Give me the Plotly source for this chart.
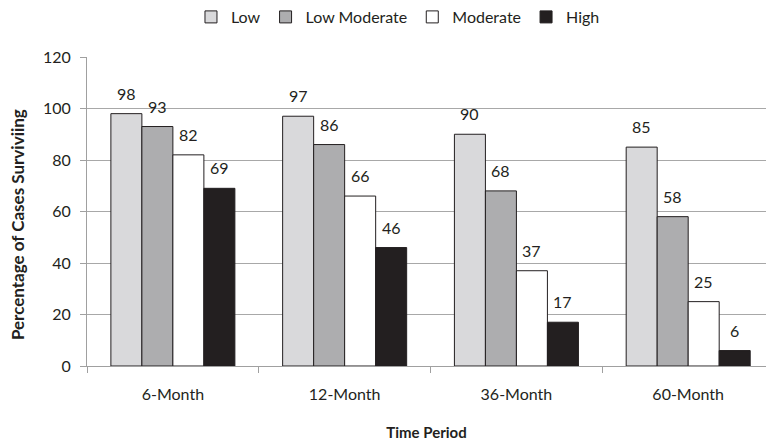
import plotly.graph_objects as go

categories = ["6-Month", "12-Month", "36-Month", "60-Month"]
series_names = ["Low", "Low Moderate", "Moderate", "High"]
low = [98, 97, 90, 85]
low_moderate = [93, 86, 68, 58]
moderate = [82, 66, 37, 25]
high = [69, 46, 17, 6]
y_ticks = [0, 20, 40, 60, 80, 100, 120]

values = [low, low_moderate, moderate, high]
colors = ["#d9d9db", "#adadaf", "#ffffff", "#231f20"]

FONT = "Lato, Open Sans, sans-serif"
TXT = "#231f20"
BAR_PX = 31  # pixel width of one bar (style only)

fig = go.Figure()
for i, (name, vals, col) in enumerate(zip(series_names, values, colors)):
    fig.add_trace(go.Bar(
        x=categories, y=vals, name=name,
        marker=dict(color=col, line=dict(color=TXT, width=1)),
    ))
    for c, v in zip(categories, vals):
        fig.add_annotation(
            x=c, y=v, text=str(v), showarrow=False,
            xshift=(i - 1.5) * BAR_PX, yshift=9, yanchor="bottom",
            font=dict(size=16, color=TXT, family=FONT),
        )

# y-axis title placed as a rotated annotation (slightly below plot-area centre, as in the reference)
fig.add_annotation(
    text="<b>Percentage of Cases Surviviing</b>", textangle=-90, showarrow=False,
    xref="paper", yref="paper", x=0, y=0.456, xanchor="center", yanchor="middle",
    xshift=-70, font=dict(size=17, color=TXT, family=FONT),
)

fig.update_layout(
    width=766, height=441,
    barmode="group", bargap=0.278, bargroupgap=0,
    plot_bgcolor="white", paper_bgcolor="white",
    margin=dict(l=87, r=0, t=57, b=75, autoexpand=False),
    font=dict(family=FONT, color=TXT, size=16),
    legend=dict(orientation="h", x=0.458, xanchor="center", y=1 - 17 / 441, yanchor="middle",
                yref="container", font=dict(size=16), traceorder="normal",
                itemwidth=30),
    showlegend=True,
)
fig.update_xaxes(
    range=[-0.5, 3.453], automargin=False,
    showline=True, linecolor="#a0a0a0", linewidth=1,
    ticks="outside", tickson="boundaries", ticklen=6, tickcolor="#a0a0a0",
    tickfont=dict(size=16), ticklabelstandoff=14,
    title=dict(text="<b>Time Period</b>", font=dict(size=15), standoff=25),
)
fig.update_yaxes(
    range=[0, 120], tickvals=y_ticks, automargin=False,
    showgrid=True, gridcolor="#a8a8a8", gridwidth=1,
    showline=True, linecolor="#a0a0a0", linewidth=1,
    ticks="outside", ticklen=6, tickcolor="#a0a0a0",
    tickfont=dict(size=16), zeroline=False, ticklabelstandoff=6,
)

fig.write_html("out.html", post_script="document.body.style.margin='0';",
               config={"displayModeBar": False})
